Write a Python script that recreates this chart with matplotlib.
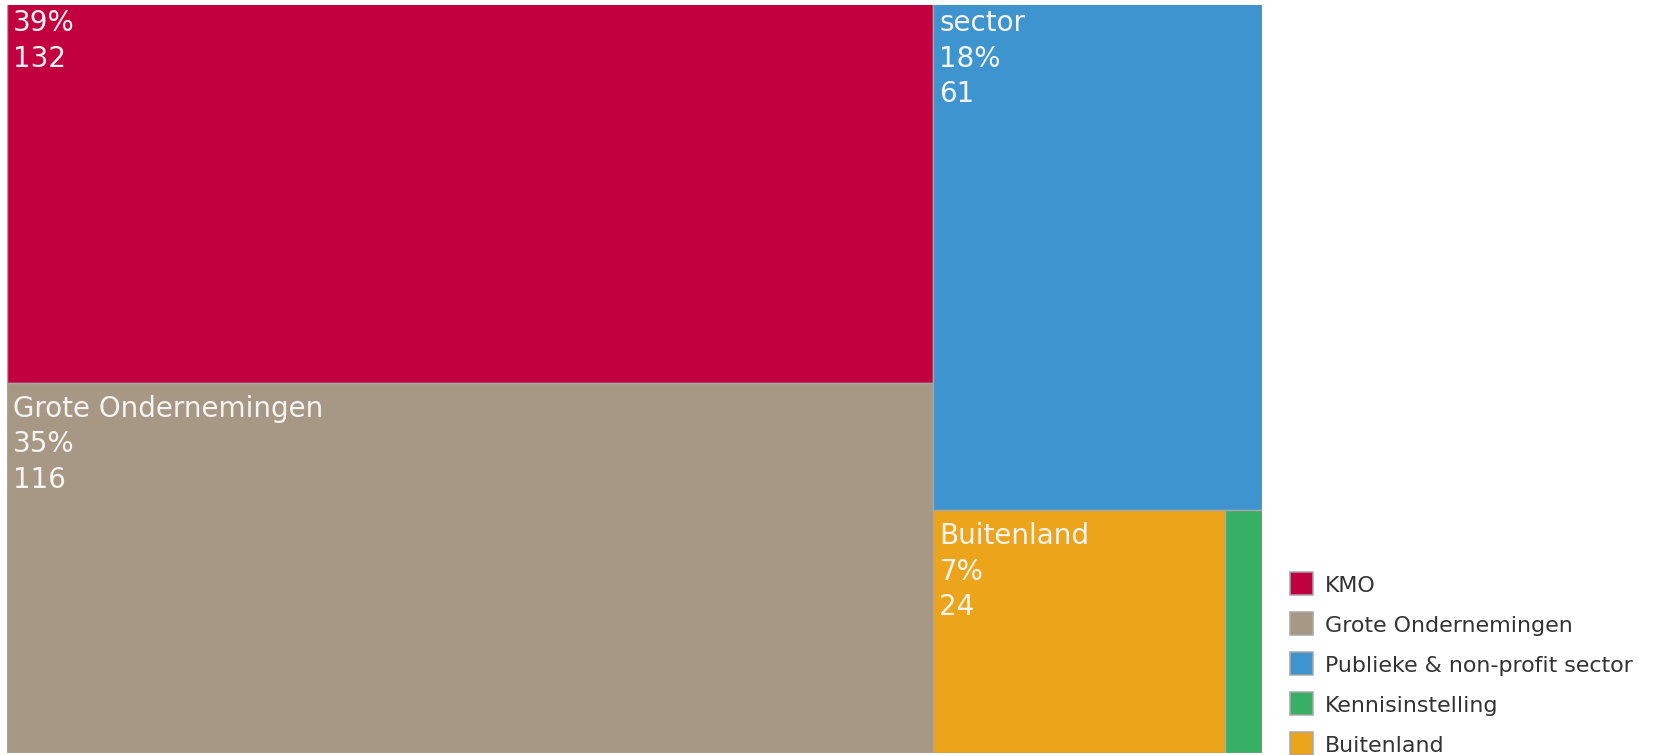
"""Treemap of partner types with a square legend on the right"""

import matplotlib
matplotlib.use('Agg')
import matplotlib.pyplot as plt
from matplotlib.patches import Rectangle


categories = ['KMO', 'Grote Ondernemingen', 'Publieke & non-profit sector', 'Kennisinstelling', 'Buitenland']
counts = [132, 116, 61, 3, 24]
tile_names = ['KMO', 'Grote Ondernemingen', 'Publieke & non-profit\nsector', 'Kennisinstelling', 'Buitenland']
colors = ['#c3003f', '#a69885', '#3d94ce', '#37b065', '#eca41a']

# nesting of the tiles: columns, then stacked, then side by side
groups = [[0, 1], [2, [4, 3]]]

W_PX, H_PX = 1653, 755


def node_total(node):
  if isinstance(node, int):
    return counts[node]
  return sum(node_total(n) for n in node)


def layout(node, x, y, w, h, horizontal, out):
  """Split the rect proportionally to the values, alternating direction."""
  if isinstance(node, int):
    out[node] = (x, y, w, h)
    return
  total = float(node_total(node))
  pos = 0.0
  for n in node:
    frac = node_total(n) / total
    if horizontal:
      layout(n, x + pos * w, y, frac * w, h, False, out)
    else:
      layout(n, x, y + pos * h, w, frac * h, True, out)
    pos += frac


fig = plt.figure(figsize=(W_PX / 100.0, H_PX / 100.0), dpi=100)

# treemap area (its top runs past the top of the picture, as in the original crop)
left, right, top, bottom = 7, 1262, -38, 753
ax = fig.add_axes([left / W_PX, (H_PX - bottom) / H_PX,
                   (right - left) / W_PX, (bottom - top) / H_PX])
ax.set_xlim(0, 1)
ax.set_ylim(1, 0)
ax.axis('off')

rects = {}
layout(groups, 0.0, 0.0, 1.0, 1.0, True, rects)
total = sum(counts)
ax_w_px = right - left

for i, (x, y, w, h) in rects.items():
  ax.add_patch(Rectangle((x, y), w, h, facecolor=colors[i], edgecolor='#a6a6a6', lw=1.0))
  if w * ax_w_px < 80:
    continue  # too narrow for a label
  label = '%s\n%d%%\n%d' % (tile_names[i], round(100.0 * counts[i] / total), counts[i])
  ax.annotate(label, xy=(x, y), xycoords='data', xytext=(6, -12), textcoords='offset pixels',
              ha='left', va='top', fontsize=20, color='#f6f4f2', linespacing=1.34,
              family='DejaVu Sans')

# overlay in pixel coordinates for the legend and the white top strip
ov = fig.add_axes([0, 0, 1, 1])
ov.set_xlim(0, W_PX)
ov.set_ylim(H_PX, 0)
ov.axis('off')
ov.add_patch(Rectangle((0, 0), W_PX, 4.5, facecolor='white', edgecolor='none', zorder=5))

for i, name in enumerate(categories):
  cy = 583.5 + 40 * i
  ov.add_patch(Rectangle((1290, cy - 11.5), 23, 23, facecolor=colors[i], edgecolor='#a8a8a8', lw=1.1))
  ov.text(1325, cy + 8, name, ha='left', va='baseline', fontsize=15.9, color='#333333',
          family='DejaVu Sans')

fig.savefig('out.png', dpi=100)
